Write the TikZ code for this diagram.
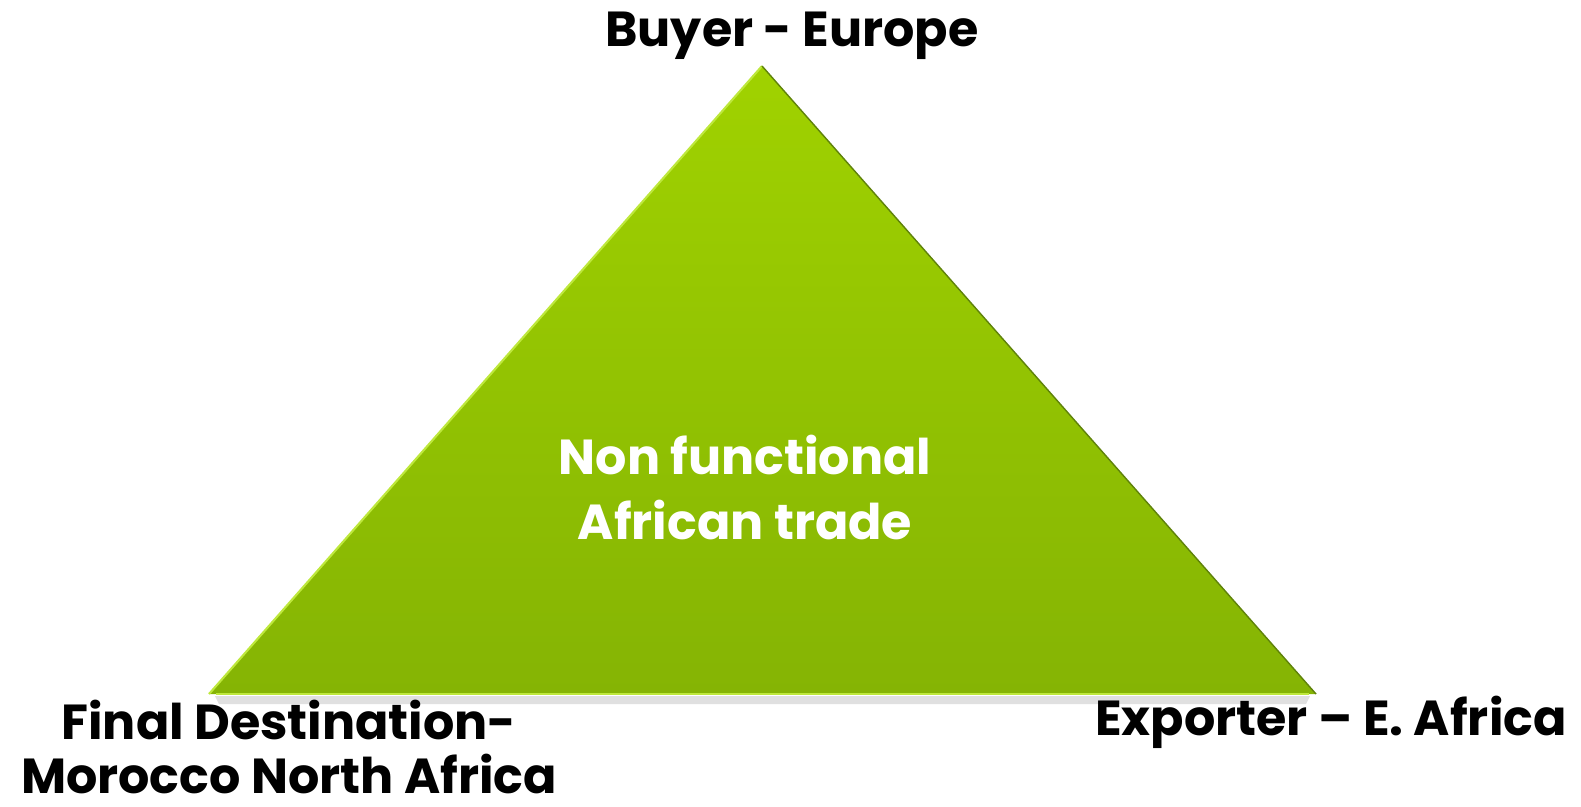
\documentclass[tikz,border=0pt]{standalone}
\usepackage{fontspec}
\setmainfont{Poppins}
\definecolor{leafTop}{RGB}{160,210,0}
\definecolor{leafBot}{RGB}{133,180,4}
\definecolor{leafEdge}{RGB}{190,232,60}
\definecolor{leafDark}{RGB}{95,130,10}

\begin{document}
\begin{tikzpicture}[x=0.02cm,y=-0.02cm]
            \useasboundingbox (0,0) rectangle (1581,806);
            % corners of the triangle
            \coordinate (top) at (762,66);
            \coordinate (left) at (209,694);
            \coordinate (right) at (1316,694);

            % soft shadow under the base
            \fill[black!12] (215,696) -- (1310,696) -- (1306,704) -- (219,704) -- cycle;

            % the triangle
            \shade[top color=leafTop, bottom color=leafBot] (top) -- (right) -- (left) -- cycle;
            \draw[leafEdge, line width=1.2pt] (left) -- (top);
            \draw[leafDark, line width=0.8pt] (top) -- (right);
            \draw[leafEdge, line width=1pt] ([xshift=4pt]left) -- ([xshift=-4pt]right);

            % labels
            \node[font=\bfseries\fontsize{28}{32}\selectfont] (buyer) at (792,36) {Buyer - Europe};
            \node[font=\bfseries\fontsize{28}{32}\selectfont, text=white, align=center] (trade) at (745,487)
                {Non functional\\[5pt]African trade};
            \node[font=\bfseries\fontsize{28}{31}\selectfont, align=center, inner sep=0pt] (dest) at (289,747)
                {Final Destination-\\Morocco North Africa};
            \node[font=\bfseries\fontsize{28}{32}\selectfont] (exporter) at (1331,722) {Exporter -- E. Africa};
\end{tikzpicture}
\end{document}
